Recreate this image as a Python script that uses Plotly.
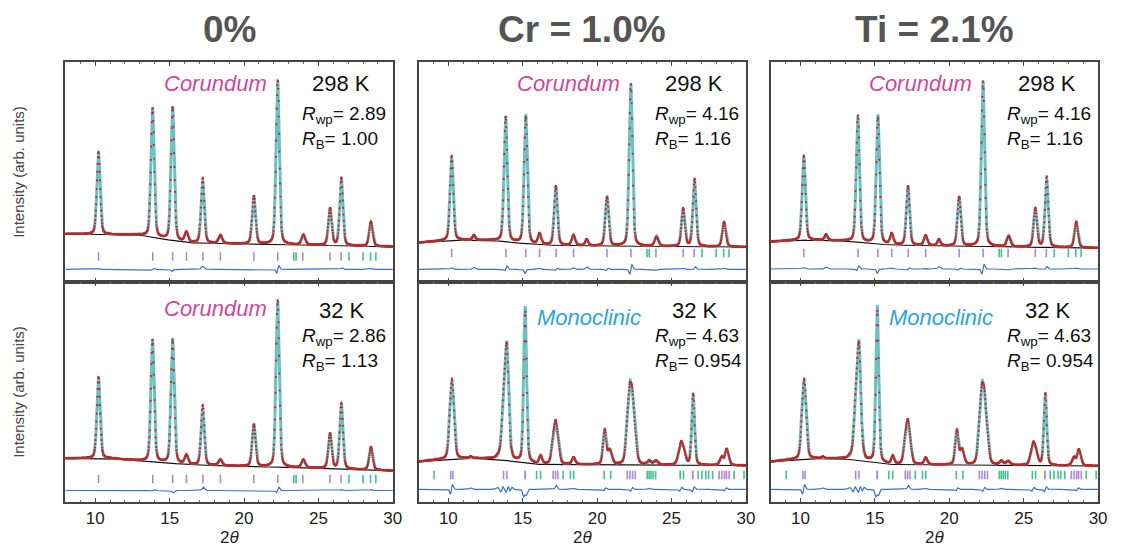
import numpy as np
import plotly.graph_objects as go

# ---------------------------------------------------------------
# Synchrotron powder diffraction, Rietveld fits
# columns: dopant level, rows: temperature
# intensities in arb. units (background-referenced), 2theta in deg
# ---------------------------------------------------------------
COLUMN_TITLES = ["0%", "Cr = 1.0%", "Ti = 2.1%"]
TEMPERATURES = ["298 K", "298 K", "298 K", "32 K", "32 K", "32 K"]
PHASES = ["Corundum", "Corundum", "Corundum", "Corundum", "Monoclinic", "Monoclinic"]
R_WP = ["2.89", "4.16", "4.16", "2.86", "4.63", "4.63"]
R_B = ["1.00", "1.16", "1.16", "1.13", "0.954", "0.954"]

# corundum-phase reflections (position, FWHM)
COR_POS = [10.22, 11.72, 13.85, 15.20, 16.13, 17.22, 18.41, 19.30, 20.66, 22.26, 23.99, 25.78, 26.54, 28.53]
COR_FWHM = [0.26, 0.28, 0.26, 0.26, 0.27, 0.26, 0.28, 0.28, 0.27, 0.26, 0.29, 0.27, 0.26, 0.28]
# peak heights per pattern
H_0_298 = [82, 0, 129, 134, 10, 62, 8, 0, 48, 164, 10, 37, 67, 24]
H_CR_298 = [83, 3, 125, 129, 10, 59, 9, 4, 49, 162, 10, 37, 66, 24]
H_TI_298 = [83, 4, 125, 129, 10, 59, 9, 4, 49, 165, 11, 38, 68, 25]
H_0_32 = [81, 0, 122, 125, 9, 57, 6, 0, 42, 166, 8, 35, 65, 22]

# monoclinic-phase reflections (split peaks)
MONO_POS = [10.16, 10.31, 13.71, 13.93, 15.16, 16.20, 17.04, 17.20, 17.36, 18.42, 20.50, 20.85,
            22.02, 22.20, 22.38, 22.56, 23.50, 23.95, 25.58, 25.80, 26.45, 28.38, 28.72]
MONO_FWHM = [0.27, 0.27, 0.32, 0.30, 0.23, 0.23, 0.27, 0.27, 0.27, 0.27, 0.25, 0.32,
             0.27, 0.27, 0.27, 0.27, 0.32, 0.32, 0.32, 0.32, 0.23, 0.30, 0.30]
H_CR_32 = [50, 46, 45, 105, 156, 8, 19, 27, 17, 6, 34, 14, 27, 60, 46, 19, 3, 4, 17, 13, 71, 8, 15]
H_TI_32 = [50, 46, 45, 106, 157, 8, 20, 28, 17, 6, 34, 15, 27, 60, 46, 19, 3, 4, 17, 13, 72, 8, 15]

# background anchor points (2theta, level)
BG_0_298 = ([8, 12.9, 16.1, 20, 30], [10, 9, 1.3, 0, -2.7])
BG_CR_298 = ([8, 10.3, 13, 16, 20, 30], [1.3, 4, 3.5, -1, -2, -3])
BG_TI_298 = ([8, 10.3, 13, 16, 20, 30], [2.3, 4, 3, -1, -2, -4])
BG_0_32 = ([8, 11, 16.5, 25, 30], [5.7, 5.5, -1, -4.3, -6.7])
BG_CR_32 = ([8, 10, 11.5, 13, 16, 30], [2.3, 5, 5.7, 5, -0.3, -1.5])
BG_TI_32 = ([8, 10, 11.5, 13, 16, 30], [2.3, 5, 5.5, 5, -0.5, -2])

# reflection markers
COR_TICKS_A = [10.22, 13.87, 15.20, 16.13, 17.24, 18.41, 20.66, 22.27, 23.95, 25.78, 26.52]
COR_TICKS_B = [23.35, 23.50, 27.05, 28.00, 28.50, 28.86]
MONO_TICKS_A = [10.16, 10.31, 13.71, 13.93, 15.16, 15.16, 17.04, 17.20, 17.36, 22.02, 22.20, 22.38,
                22.56, 26.42, 26.42, 28.20, 28.38, 28.56, 28.69, 28.87]
MONO_TICKS_B = [9.04, 15.93, 16.20, 17.71, 18.20, 18.42, 20.47, 20.91, 23.36, 23.49, 23.62, 23.76,
                23.93, 25.58, 25.80, 26.78, 27.04, 27.31, 27.49, 27.76, 29.20, 29.87]

# misfit features of obs - calc: antisymmetric (shift) and symmetric (intensity) parts
WIG_0_298 = ([13.85, 15.20, 22.26, 26.54], [1, 1.5, 4, 1])
BUMP_0_298 = ([10.22, 15.25, 17.22, 26.50, 28.50], [0.8, -2, 3, 1.2, 1])
WIG_CR_298 = ([13.87, 15.20, 17.22, 20.66, 22.26, 26.54], [3, 3, 1.2, 1.2, 5, 1.5])
BUMP_CR_298 = ([10.22, 11.72, 13.80, 15.25, 16.13, 18.41, 19.30, 23.99, 25.78, 26.54, 28.53],
               [1.5, 2, 1.5, -3.5, 1, 1.5, 2.5, -1, 1, 1.5, 1])
WIG_TI_298 = ([13.85, 15.20, 17.22, 20.66, 22.26, 26.50], [3, 3, 1.2, 1, 5, 1.5])
BUMP_TI_298 = ([10.22, 11.72, 13.80, 15.25, 16.13, 18.41, 19.30, 23.99, 25.72, 26.50, 28.53],
               [1.5, 2, 1.5, -3.5, 1, 1, 2.5, -1, 1, 1.5, 1])
WIG_0_32 = ([13.85, 22.26], [0.8, 2.5])
BUMP_0_32 = ([10.22, 15.22, 17.26, 22.30, 26.54, 28.53], [0.6, -2.5, 3.5, 1, 1, 1])
WIG_CR_32 = ([10.20, 13.60, 13.95, 14.20, 15.10, 17.20, 20.50, 22.30, 25.60, 26.45, 28.60],
             [5, 2.5, 3, 2, 5, 1.5, 1.5, 2, 2, 2.5, 1.5])
BUMP_CR_32 = ([11.50, 13.30, 15.18, 17.20, 18.40, 23.50], [1.5, 2, -11, 3, 1, 1])
WIG_TI_32 = ([10.20, 13.60, 13.95, 14.20, 15.10, 17.20, 20.50, 22.30, 25.60, 26.45, 28.60],
             [5, 2.5, 3, 2, 5, 1.5, 1.5, 2, 2, 2.5, 1.5])
BUMP_TI_32 = ([11.50, 13.30, 15.18, 17.20, 18.40, 23.50], [1.5, 2, -11, 3, 1, 1])

# ---------------------------------------------------------------
TTH_OBS = np.round(np.arange(8.0, 30.0001, 0.02), 3)   # measured steps
TTH_FIT = np.round(np.arange(8.0, 30.0001, 0.005), 4)  # fine grid for the fitted curve

COLORS = dict(obs="#bf2a2a", calc="#6cc2c2", bg="#111111", diff="#3b6fd4",
              tick_a="#a98ad8", tick_b="#3fc48a", frame="#444444")

W, H = 1121, 549
COL_LEFT = [66, 422, 777]
COL_RIGHT = [396, 752, 1107]
ROW_TOP = [62, 282]
ROW_BOTTOM = [282, 502]
Y_RANGE = [-38, 182]
TICK_LEVEL = [-12.5, -9, -9, -15, -11, -11]
DIFF_LEVEL = [-25.3, -25.3, -25.0, -26.5, -25.3, -25.3]


def pseudo_voigt(x, c, h, f, eta=0.3):
    d = (x - c) / f
    return h * ((1 - eta) * np.exp(-4 * np.log(2) * d * d) + eta / (1 + 4 * d * d))


def misfit(x, wig, bump):
    out = np.zeros_like(x)
    for c, a in zip(*wig):
        d = (x - c) / 0.07
        out += a * d * np.exp(0.5 * (1 - d * d))
    for c, a in zip(*bump):
        d = (x - c) / 0.08
        out += a * np.exp(-0.5 * d * d)
    return out


def model(x, bg, pos, fwhm, hts):
    y = np.interp(x, bg[0], bg[1])
    for p, f, h in zip(pos, fwhm, hts):
        y = y + pseudo_voigt(x, p, h, f)
    return y


patterns = [
    (BG_0_298, COR_POS, COR_FWHM, H_0_298, COR_TICKS_A, COR_TICKS_B, WIG_0_298, BUMP_0_298),
    (BG_CR_298, COR_POS, COR_FWHM, H_CR_298, COR_TICKS_A, COR_TICKS_B, WIG_CR_298, BUMP_CR_298),
    (BG_TI_298, COR_POS, COR_FWHM, H_TI_298, COR_TICKS_A, COR_TICKS_B, WIG_TI_298, BUMP_TI_298),
    (BG_0_32, COR_POS, COR_FWHM, H_0_32, COR_TICKS_A, COR_TICKS_B, WIG_0_32, BUMP_0_32),
    (BG_CR_32, MONO_POS, MONO_FWHM, H_CR_32, MONO_TICKS_A, MONO_TICKS_B, WIG_CR_32, BUMP_CR_32),
    (BG_TI_32, MONO_POS, MONO_FWHM, H_TI_32, MONO_TICKS_A, MONO_TICKS_B, WIG_TI_32, BUMP_TI_32),
]

fig = go.Figure()
layout = {}
annotations = []
FONT = "Liberation Sans, Arial, sans-serif"

for k, (bg, pos, fwhm, hts, ta, tb, wig, bump) in enumerate(patterns):
    r, c = divmod(k, 3)
    ax = "" if k == 0 else str(k + 1)
    xref, yref = "x" + ax, "y" + ax

    background = np.interp(TTH_FIT, bg[0], bg[1])
    calc = model(TTH_FIT, bg, pos, fwhm, hts)
    obs = model(TTH_OBS, bg, pos, fwhm, hts) + misfit(TTH_OBS, wig, bump)
    diff = DIFF_LEVEL[k] + misfit(TTH_FIT, wig, bump)

    fig.add_trace(go.Scatter(x=TTH_FIT, y=background, mode="lines", xaxis=xref, yaxis=yref,
                             line=dict(color=COLORS["bg"], width=1.2), hoverinfo="skip"))
    fig.add_trace(go.Scatter(x=TTH_FIT, y=calc, mode="lines", xaxis=xref, yaxis=yref,
                             line=dict(color=COLORS["calc"], width=3), hoverinfo="skip"))
    fig.add_trace(go.Scatter(x=TTH_OBS, y=obs, mode="markers", xaxis=xref, yaxis=yref,
                             marker=dict(color=COLORS["obs"], size=2.2, line=dict(width=0)),
                             hoverinfo="skip"))
    fig.add_trace(go.Scatter(x=ta, y=[TICK_LEVEL[k]] * len(ta), mode="markers",
                             xaxis=xref, yaxis=yref,
                             marker=dict(symbol="line-ns", size=6,
                                         line=dict(color=COLORS["tick_a"], width=1.6))))
    fig.add_trace(go.Scatter(x=tb, y=[TICK_LEVEL[k]] * len(tb), mode="markers",
                             xaxis=xref, yaxis=yref,
                             marker=dict(symbol="line-ns", size=6,
                                         line=dict(color=COLORS["tick_b"], width=1.6))))
    fig.add_trace(go.Scatter(x=TTH_FIT, y=diff, mode="lines", xaxis=xref, yaxis=yref,
                             line=dict(color=COLORS["diff"], width=1.2), hoverinfo="skip"))

    layout["xaxis" + ax] = dict(
        domain=[COL_LEFT[c] / W, COL_RIGHT[c] / W], anchor=yref, range=[8, 30],
        showline=True, linecolor=COLORS["frame"], linewidth=1.8, mirror="ticks",
        ticks="inside", ticklen=4, tickwidth=1.3, tickcolor=COLORS["frame"],
        tick0=0, dtick=5, showgrid=False, zeroline=False,
        minor=dict(dtick=1, ticks="inside", ticklen=2, tickwidth=1, tickcolor="#666666"),
        showticklabels=(r == 1), tickfont=dict(family=FONT, size=17, color="#222222"),
    )
    layout["yaxis" + ax] = dict(
        domain=[1 - ROW_BOTTOM[r] / H, 1 - ROW_TOP[r] / H], anchor=xref, range=Y_RANGE,
        showline=True, linecolor=COLORS["frame"], linewidth=1.8, mirror=True,
        ticks="", showticklabels=False, showgrid=False, zeroline=False,
    )

    left = COL_LEFT[c]
    if r == 0:
        ph_x, ph_y, t_x, t_y, rw_y, rb_y = left + 151, 84, left + 278, 84, 115, 140
    else:
        if PHASES[k] == "Monoclinic":
            ph_x, ph_y = left + 172, 317
        else:
            ph_x, ph_y = left + 151, 308
        t_x, t_y, rw_y, rb_y = left + 279, 310, 337, 362
    ph_color = "#d0489c" if PHASES[k] == "Corundum" else "#2aa6df"
    annotations += [
        dict(x=ph_x / W, y=1 - ph_y / H, text="<i>" + PHASES[k] + "</i>", showarrow=False,
             xref="paper", yref="paper", xanchor="center", yanchor="middle",
             font=dict(family=FONT, size=22, color=ph_color)),
        dict(x=t_x / W, y=1 - t_y / H, text=TEMPERATURES[k], showarrow=False,
             xref="paper", yref="paper", xanchor="center", yanchor="middle",
             font=dict(family=FONT, size=22, color="#111111")),
        dict(x=(left + 236) / W, y=1 - rw_y / H,
             text="<i>R</i><sub>wp</sub>= " + R_WP[k], showarrow=False,
             xref="paper", yref="paper", xanchor="left", yanchor="middle",
             font=dict(family=FONT, size=19, color="#111111")),
        dict(x=(left + 236) / W, y=1 - rb_y / H,
             text="<i>R</i><sub>B</sub>= " + R_B[k], showarrow=False,
             xref="paper", yref="paper", xanchor="left", yanchor="middle",
             font=dict(family=FONT, size=19, color="#111111")),
    ]

for c, title in enumerate(COLUMN_TITLES):
    cx = (COL_LEFT[c] + COL_RIGHT[c]) / 2
    annotations.append(dict(x=cx / W, y=1 - 29 / H, text="<b>" + title + "</b>", showarrow=False,
                            xref="paper", yref="paper", xanchor="center", yanchor="middle",
                            font=dict(family=FONT, size=37, color="#555555")))
    annotations.append(dict(x=cx / W, y=1 - 537 / H, text="2<i>θ</i>", showarrow=False,
                            xref="paper", yref="paper", xanchor="center", yanchor="middle",
                            font=dict(family=FONT, size=17, color="#222222")))

for r in range(2):
    cy = (ROW_TOP[r] + ROW_BOTTOM[r]) / 2
    annotations.append(dict(x=18 / W, y=1 - cy / H, text="Intensity (arb. units)", textangle=-90,
                            showarrow=False, xref="paper", yref="paper",
                            xanchor="center", yanchor="middle",
                            font=dict(family=FONT, size=15, color="#444444")))

fig.update_layout(
    width=W, height=H, autosize=False,
    margin=dict(l=0, r=0, t=0, b=0),
    paper_bgcolor="white", plot_bgcolor="white",
    showlegend=False, annotations=annotations, **layout,
)

fig.write_html("out.html")
